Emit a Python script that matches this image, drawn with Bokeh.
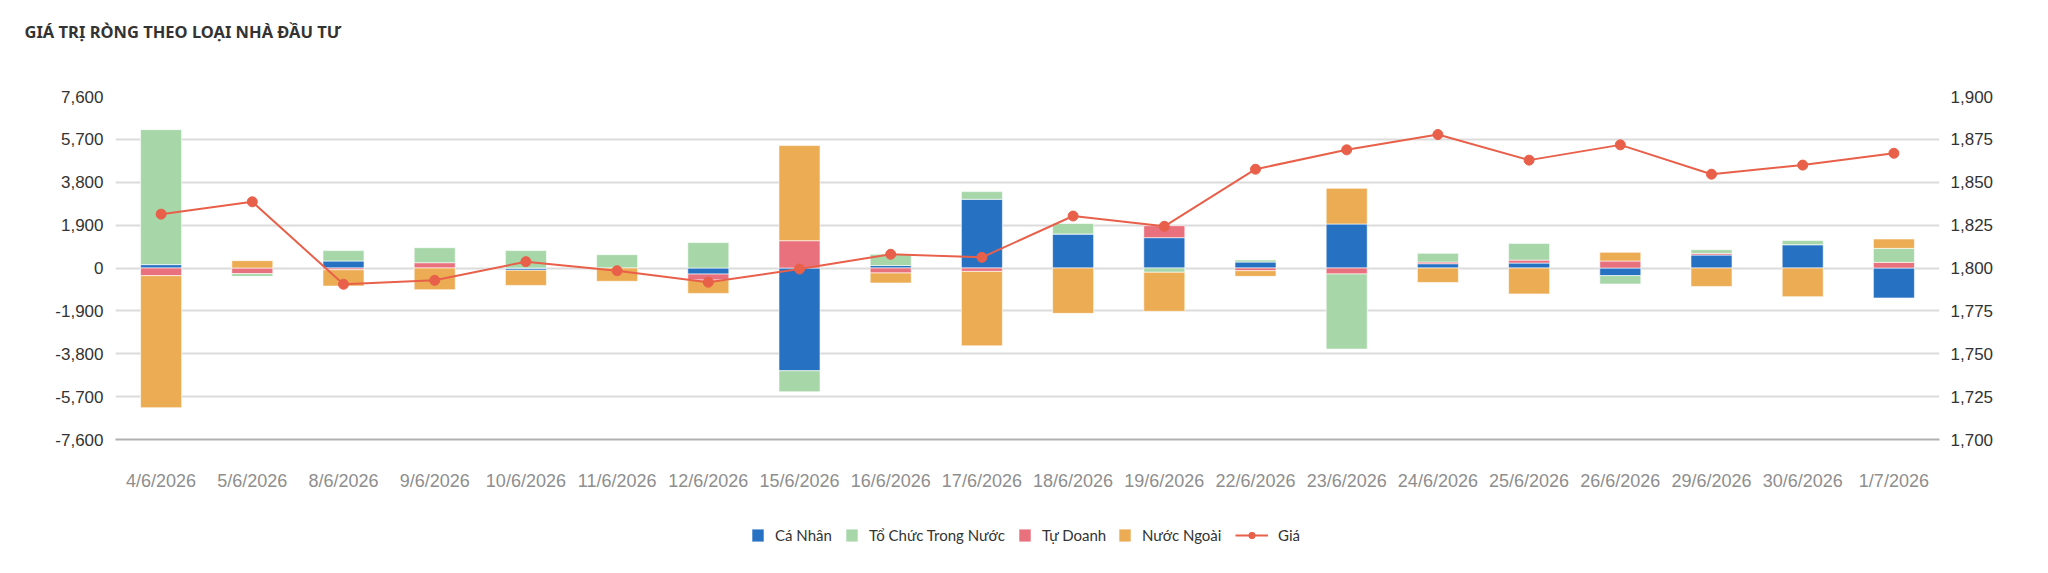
from bokeh.plotting import figure
from bokeh.layouts import column
from bokeh.models import (ColumnDataSource, Range1d, FactorRange, LinearAxis, FixedTicker,
                          NumeralTickFormatter, Legend, LegendItem)
from bokeh.embed import file_html
from bokeh.resources import INLINE

# Net trading value by investor type (stacked) and closing price
dates = ["4/6/2026", "5/6/2026", "8/6/2026", "9/6/2026", "10/6/2026", "11/6/2026",
         "12/6/2026", "15/6/2026", "16/6/2026", "17/6/2026", "18/6/2026", "19/6/2026",
         "22/6/2026", "23/6/2026", "24/6/2026", "25/6/2026", "26/6/2026", "29/6/2026",
         "30/6/2026", "1/7/2026"]
ca_nhan = [150, 0, 310, 0, -100, 0, -270, -4555, 110, 3045, 1510, 1345,
           265, 1950, 190, 220, -340, 575, 1035, -1330]
to_chuc_trong_nuoc = [5980, -120, 460, 665, 770, 590, 1125, -930, 500, 340, 460, -190,
                      90, -3330, 385, 740, -370, 160, 180, 620]
tu_doanh = [-340, -250, -80, 235, 0, 0, -265, 1210, -220, -150, 0, 530,
            -120, -265, 75, 130, 310, 75, 0, 250]
nuoc_ngoai = [-5850, 325, -720, -960, -670, -590, -590, 4215, -445, -3300, -2010, -1730,
              -250, 1580, -640, -1150, 385, -815, -1270, 415]
gia = [1831.4, 1838.6, 1790.5, 1792.8, 1803.7, 1798.4, 1791.7, 1799.4, 1808.0, 1806.2,
       1830.3, 1824.3, 1857.6, 1868.9, 1877.8, 1862.9, 1871.8, 1854.7, 1860.0, 1866.9]

left_ticks = [-7600, -5700, -3800, -1900, 0, 1900, 3800, 5700, 7600]
right_ticks = [1700, 1725, 1750, 1775, 1800, 1825, 1850, 1875, 1900]

title_text = "GIÁ TRỊ RÒNG THEO LOẠI NHÀ ĐẦU TƯ"
price_label = "Giá"
series = [
    ("Cá Nhân", ca_nhan, "#2771C3"),
    ("Tổ Chức Trong Nước", to_chuc_trong_nuoc, "#A7D7A9"),
    ("Tự Doanh", tu_doanh, "#E9707D"),
    ("Nước Ngoài", nuoc_ngoai, "#ECAC53"),
]
# order in which segments are piled outward from zero
stack_order = ["Cá Nhân", "Tự Doanh", "Tổ Chức Trong Nước", "Nước Ngoài"]
line_color = "#E8604A"

W = 2048
HEAD_H, CHART_H, FOOT_H = 76, 429, 68
FRAME_LEFT, FRAME_RIGHT = 115, 109


def bare_figure(height, **kw):
    f = figure(width=W, height=height, x_range=Range1d(0, 1), y_range=Range1d(0, 1),
               output_backend="svg", toolbar_location=None,
               x_axis_location=None, y_axis_location=None, outline_line_color=None,
               min_border_left=FRAME_LEFT, min_border_right=FRAME_RIGHT,
               min_border_top=0, min_border_bottom=0, **kw)
    f.grid.visible = False
    return f


# ---- header: the title sits in the plot's title panel, pulled left to the page edge
head = bare_figure(HEAD_H, title=title_text)
head.title.align = "left"
head.title.offset = 24 - FRAME_LEFT
head.title.standoff = 34
head.title.text_font = "Noto Sans"
head.title.text_font_style = "bold"
head.title.text_font_size = "16.5px"
head.title.text_color = "#333333"

# ---- main chart
chart = figure(width=W, height=CHART_H, x_range=FactorRange(*dates, range_padding=0),
               y_range=Range1d(-7600, 7600), output_backend="svg", toolbar_location=None,
               title_location=None, min_border_left=FRAME_LEFT, min_border_right=FRAME_RIGHT,
               min_border_top=20, min_border_bottom=66, outline_line_color=None)
chart.extra_y_ranges = {"price": Range1d(1700, 1900)}

lookup = {name: (vals, col) for name, vals, col in series}
pos_base = [0.0] * len(dates)
neg_base = [0.0] * len(dates)
for name in stack_order:
    vals, col = lookup[name]
    bottoms, tops = [], []
    for i, v in enumerate(vals):
        if v >= 0:
            bottoms.append(pos_base[i]); tops.append(pos_base[i] + v); pos_base[i] += v
        else:
            bottoms.append(neg_base[i]); tops.append(neg_base[i] + v); neg_base[i] += v
    src = ColumnDataSource(dict(x=dates, bottom=bottoms, top=tops))
    chart.vbar(x="x", bottom="bottom", top="top", width=0.45, source=src,
               fill_color=col, line_color="white", line_alpha=0.6, line_width=1)

price_src = ColumnDataSource(dict(x=dates, y=gia))
chart.line(x="x", y="y", source=price_src, y_range_name="price",
           line_color=line_color, line_width=2)
chart.scatter(x="x", y="y", source=price_src, y_range_name="price", size=10,
              fill_color=line_color, line_color=line_color)

tick_font = "Liberation Sans"
chart.yaxis.ticker = FixedTicker(ticks=left_ticks)
chart.yaxis.formatter = NumeralTickFormatter(format="0,0")
right_axis = LinearAxis(y_range_name="price", ticker=FixedTicker(ticks=right_ticks),
                        formatter=NumeralTickFormatter(format="0,0"))
chart.add_layout(right_axis, "right")
for ax, standoff in ((chart.yaxis[0], 12), (right_axis, 11)):
    ax.axis_line_color = None
    ax.major_tick_line_color = None
    ax.minor_tick_line_color = None
    ax.major_tick_out = 0
    ax.major_label_text_font = tick_font
    ax.major_label_text_font_size = "17px"
    ax.major_label_text_color = "#333333"
    ax.major_label_standoff = standoff

chart.xaxis.axis_line_color = "#b0b0b0"
chart.xaxis.axis_line_width = 2
chart.xaxis.major_tick_line_color = None
chart.xaxis.minor_tick_line_color = None
chart.xaxis.major_tick_out = 0
chart.xaxis.major_label_text_font = tick_font
chart.xaxis.major_label_text_font_size = "18px"
chart.xaxis.major_label_text_color = "#8e8e8e"
chart.xaxis.major_label_standoff = 31

chart.xgrid.grid_line_color = None
chart.ygrid.grid_line_color = "#dcdcdc"
chart.ygrid.grid_line_width = 2

# ---- footer: legend keys; their single sample row lies below the footer's visible range
foot = bare_figure(FOOT_H, title_location=None)
legend_x = {"Cá Nhân": 750, "Tổ Chức Trong Nước": 844, "Tự Doanh": 1017,
            "Nước Ngoài": 1117, price_label: 1235}
legend_style = dict(orientation="horizontal", glyph_height=16, label_standoff=10,
                    padding=0, margin=0, background_fill_alpha=0, border_line_alpha=0,
                    label_text_font="Lato", label_text_font_size="15px",
                    label_text_color="#333333", label_height=16)
LEG_Y = 29
key_src = ColumnDataSource(dict(x=[0.5], y=[-5.0]))
for name, _, col in series:
    swatch = foot.vbar(x="x", top="y", bottom="y", width=0.01, source=key_src,
                       fill_color=col, line_color="white", line_alpha=0.6)
    foot.add_layout(Legend(items=[LegendItem(label=name, renderers=[swatch])],
                           location=(legend_x[name] - FRAME_LEFT, LEG_Y), glyph_width=15,
                           **legend_style))
leg_line = foot.line(x="x", y="y", source=key_src, line_color=line_color, line_width=2)
leg_dot = foot.scatter(x="x", y="y", source=key_src, size=10,
                       fill_color=line_color, line_color=line_color)
foot.add_layout(Legend(items=[LegendItem(label=price_label, renderers=[leg_line, leg_dot])],
                       location=(legend_x[price_label] - FRAME_LEFT, LEG_Y), glyph_width=33,
                       **legend_style))

p = column(head, chart, foot, spacing=0)
open("out.html", "w").write(file_html(p, INLINE))
